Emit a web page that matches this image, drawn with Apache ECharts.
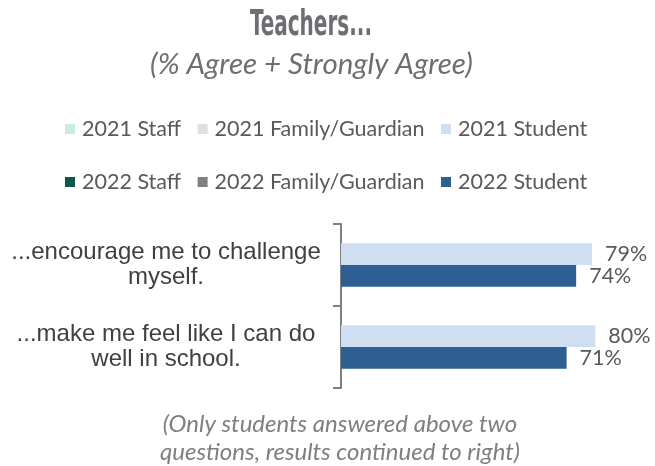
<!DOCTYPE html>
<html><head><meta charset="utf-8">
<script src="https://cdn.jsdelivr.net/npm/echarts@6/dist/echarts.min.js"></script>
<style>html,body{margin:0;padding:0;background:#fff}#c{width:655px;height:466px}</style>
</head><body><div id="c"></div>
<script>
const categories = ["...encourage me to challenge\nmyself.", "...make me feel like I can do\nwell in school."];
const student2021 = [79, 80];
const student2022 = [74, 71];
const legendRow1 = ["2021 Staff", "2021 Family/Guardian", "2021 Student"];
const legendRow2 = ["2022 Staff", "2022 Family/Guardian", "2022 Student"];
const colors = {
  "2021 Staff": "#c8eddf", "2021 Family/Guardian": "#e0e0e0", "2021 Student": "#cfdef0",
  "2022 Staff": "#0c5a4d", "2022 Family/Guardian": "#808080", "2022 Student": "#2e5f92"
};
const titleText = 'Teachers...';
const titleFont = 'bold 35px "DejaVu Sans Condensed", "DejaVu Sans", sans-serif';
const titleTargetWidth = 122;
const cv = document.createElement('canvas').getContext('2d');
cv.font = titleFont;
const titleScale = titleTargetWidth / cv.measureText(titleText).width;

const chart = echarts.init(document.getElementById('c'));
const legendText = {color: '#595959', fontSize: 21.5, fontFamily: 'Lato', padding: [0, 0, 0, 2]};
const legendBase = {
  orient: 'horizontal', left: 60, icon: 'rect', itemWidth: 10, itemHeight: 10,
  itemGap: 16.5, textStyle: legendText, selectedMode: false
};
const dummy = n => ({name: n, type: 'line', data: [], itemStyle: {color: colors[n]}, lineStyle: {color: colors[n]}});
chart.setOption({
  animation: false,
  graphic: [{
    type: 'text', x: 311, y: 8, scaleX: titleScale, originX: 0,
    style: {text: titleText, font: titleFont, fill: '#6d6e71', align: 'center', verticalAlign: 'top'}
  }],
  title: [
    {text: '(% Agree + Strongly Agree)', left: 145, top: 44,
     textStyle: {fontFamily: 'Lato', fontStyle: 'italic', fontWeight: 'normal', fontSize: 29.5, color: '#6d6e71'}},
    {text: '(Only students answered above two\nquestions, results continued to right)', left: 335, textAlign: 'center', top: 405,
     textStyle: {fontFamily: 'Lato', fontStyle: 'italic', fontWeight: 'normal', fontSize: 24, lineHeight: 28, color: '#7f7f7f'}}
  ],
  legend: [
    Object.assign({}, legendBase, {top: 113, data: legendRow1}),
    Object.assign({}, legendBase, {top: 166, data: legendRow2})
  ],
  grid: {left: 341, top: 224, width: 286, height: 164, containLabel: false},
  xAxis: {type: 'value', min: 0, max: 90, show: false},
  yAxis: {
    type: 'category', data: categories, inverse: true,
    axisLine: {show: true, lineStyle: {color: '#7f7f7f', width: 2}},
    axisTick: {show: true, length: 8, lineStyle: {color: '#7f7f7f', width: 2}},
    axisLabel: {align: 'center', margin: 175, fontFamily: '"Liberation Sans", Arial, sans-serif', fontSize: 24, lineHeight: 25, color: '#404040'}
  },
  series: [
    dummy("2021 Staff"), dummy("2021 Family/Guardian"),
    {name: "2021 Student", type: 'bar', data: student2021, barGap: '0%', barCategoryGap: '47%',
     itemStyle: {color: colors["2021 Student"]},
     label: {show: true, position: 'right', distance: 13, formatter: '{c}%', fontFamily: 'Lato', fontSize: 21.5, color: '#595959'}},
    dummy("2022 Staff"), dummy("2022 Family/Guardian"),
    {name: "2022 Student", type: 'bar', data: student2022, barGap: '0%', barCategoryGap: '47%',
     itemStyle: {color: colors["2022 Student"]},
     label: {show: true, position: 'right', distance: 13, formatter: '{c}%', fontFamily: 'Lato', fontSize: 21.5, color: '#595959'}}
  ]
});
</script></body></html>
